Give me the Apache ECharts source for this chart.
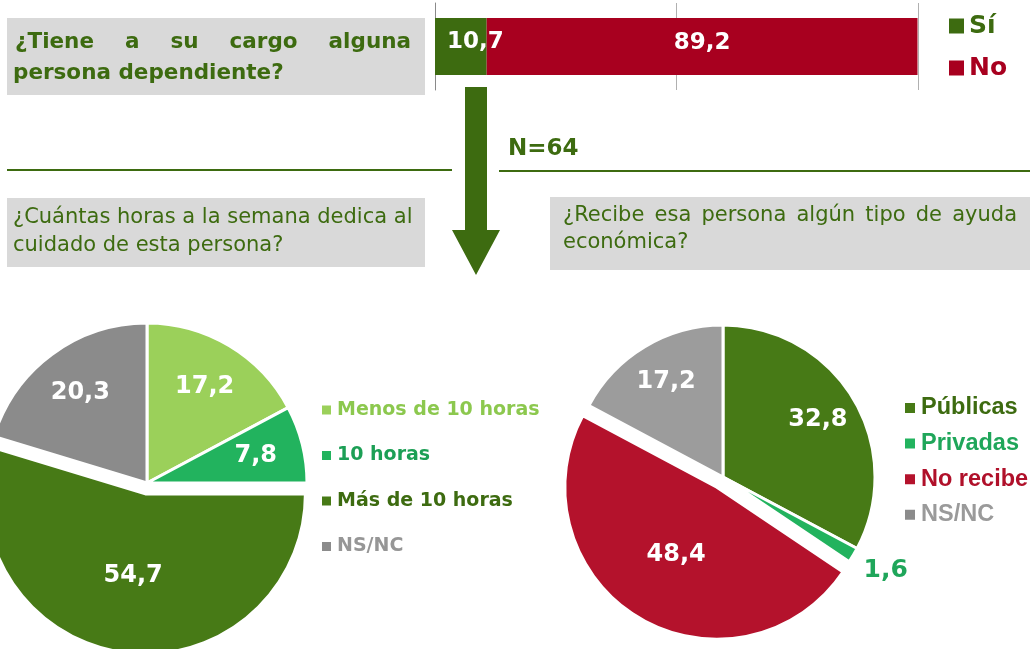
<!DOCTYPE html>
<html>
<head>
<meta charset="utf-8">
<script src="https://cdn.jsdelivr.net/npm/echarts@6/dist/echarts.min.js"></script>
<style>
html, body { margin: 0; padding: 0; background: #fff; }
#main { width: 1030px; height: 649px; }
</style>
</head>
<body>
<div id="main"></div>
<script>
// datos
var catSiNo = ['Sí', 'No'];
var valSiNo = [10.7, 89.2];

var catHoras = ['Menos de 10 horas', '10 horas', 'Más de 10 horas', 'NS/NC'];
var valHoras = [17.2, 7.8, 54.7, 20.3];

var catAyuda = ['Públicas', 'Privadas', 'No recibe', 'NS/NC'];
var valAyuda = [32.8, 1.6, 48.4, 17.2];

var nMuestra = 'N=64';

// colores
var verde = '#3d6b10';
var rojo = '#a8001f';
var colHoras = ['#9bd05a', '#22b35e', '#477a16', '#8b8b8b'];
var txtHoras = ['#8cc84e', '#1c9f55', '#3d6b10', '#969696'];
var colAyuda = ['#477a16', '#22b35e', '#b4122c', '#9c9c9c'];
var txtAyuda = ['#3d6b10', '#1fa65a', '#b0102a', '#9a9a9a'];

var fuente = '"DejaVu Sans", Verdana, sans-serif';

var myChart = echarts.init(document.getElementById('main'));

function coma(v) {
    return String(v).replace('.', ',');
}

// texto justificado palabra a palabra
var ctx = document.createElement('canvas').getContext('2d');
function justificar(texto, x0, x1, y, size, weight) {
    ctx.font = weight + ' ' + size + 'px ' + fuente;
    var palabras = texto.split(' ');
    var total = 0;
    palabras.forEach(function (w) { total += ctx.measureText(w).width; });
    var hueco = (x1 - x0 - total) / (palabras.length - 1);
    var x = x0, out = [];
    palabras.forEach(function (w) {
        out.push({
            type: 'text', x: x, y: y,
            style: { text: w, fill: verde, fontSize: size, fontWeight: weight, fontFamily: fuente, verticalAlign: 'middle' }
        });
        x += ctx.measureText(w).width + hueco;
    });
    return out;
}
function linea(texto, x, y, size, weight) {
    return {
        type: 'text', x: x, y: y,
        style: { text: texto, fill: verde, fontSize: size, fontWeight: weight, fontFamily: fuente, verticalAlign: 'middle' }
    };
}

// etiquetas de las porciones pequeñas algo más hacia fuera
function etiquetas(cx, cy, r, k, valores) {
    return function (params) {
        if (valores[params.dataIndex] > 40) return {};
        var rc = params.labelRect;
        var lx = rc.x + rc.width / 2, ly = rc.y + rc.height / 2;
        var d = Math.sqrt((lx - cx) * (lx - cx) + (ly - cy) * (ly - cy));
        if (d > r * 0.9) return { dy: 12 };   // etiqueta exterior (1,6)
        return { dx: (lx - cx) * (k - 1), dy: (ly - cy) * (k - 1) };
    };
}

var graficos = [
    { type: 'rect', shape: { x: 7, y: 18, width: 418, height: 77 }, style: { fill: '#d9d9d9' } },
    { type: 'rect', shape: { x: 7, y: 198, width: 418, height: 69 }, style: { fill: '#d9d9d9' } },
    { type: 'rect', shape: { x: 550, y: 197, width: 480, height: 73 }, style: { fill: '#d9d9d9' } },
    { type: 'line', shape: { x1: 7, y1: 170, x2: 452, y2: 170 }, style: { stroke: verde, lineWidth: 2 } },
    { type: 'line', shape: { x1: 499, y1: 171, x2: 1030, y2: 171 }, style: { stroke: verde, lineWidth: 2 } },
    { type: 'polygon', shape: { points: [[465, 87], [487, 87], [487, 230], [500, 230], [476, 275], [452, 230], [465, 230]] }, style: { fill: verde } },
    linea(nMuestra, 508, 149, 23, 'bold'),
    linea('persona dependiente?', 13, 73, 21.5, 'bold'),
    linea('¿Cuántas horas a la semana dedica al', 13, 218, 21, 'normal'),
    linea('cuidado de esta persona?', 13, 246, 21, 'normal'),
    linea('económica?', 563, 243, 21, 'normal')
];
graficos = graficos
    .concat(justificar('¿Tiene a su cargo alguna', 15, 411, 42, 21.5, 'bold'))
    .concat(justificar('¿Recibe esa persona algún tipo de ayuda', 563, 1017, 216, 21, 'normal'));

option = {
    backgroundColor: '#fff',
    animation: false,
    graphic: graficos,
    legend: [
        {
            left: 949, top: 12, orient: 'vertical', selectedMode: false, padding: 0,
            icon: 'rect', itemWidth: 15, itemHeight: 15, itemGap: 14,
            textStyle: { fontSize: 25, fontWeight: 'bold', fontFamily: fuente, lineHeight: 28 },
            data: [
                { name: catSiNo[0], textStyle: { color: verde } },
                { name: catSiNo[1], textStyle: { color: rojo } }
            ]
        },
        {
            left: 320, top: 398, orient: 'vertical', selectedMode: false, padding: 0,
            icon: 'rect', itemWidth: 11, itemHeight: 11, itemGap: 21.5,
            textStyle: { fontSize: 19, fontWeight: 'bold', fontFamily: fuente, lineHeight: 24 },
            data: catHoras.map(function (n, i) { return { name: n, textStyle: { color: txtHoras[i] } }; })
        },
        {
            left: 903, top: 395, orient: 'vertical', selectedMode: false, padding: 0,
            icon: 'rect', itemWidth: 12, itemHeight: 12, itemGap: 9.6,
            textStyle: { fontSize: 23.5, fontWeight: 'bold', fontFamily: '"Liberation Sans", Arial, sans-serif', lineHeight: 26 },
            data: catAyuda.map(function (n, i) { return { name: n, textStyle: { color: txtAyuda[i] } }; })
        }
    ],
    grid: { left: 435, top: 3, width: 483, height: 87 },
    xAxis: {
        type: 'value', min: 0, max: 100, interval: 50,
        axisLabel: { show: false },
        axisLine: { show: false },
        axisTick: { show: false },
        splitLine: { show: true, lineStyle: { color: '#b0b0b0', width: 1 } }
    },
    yAxis: {
        type: 'category', data: [''],
        axisLine: { show: true, lineStyle: { color: '#8a8a8a', width: 1 } },
        axisTick: { show: false },
        axisLabel: { show: false }
    },
    series: [
        {
            name: catSiNo[0], type: 'bar', stack: 'total', barWidth: 57,
            data: [valSiNo[0]],
            itemStyle: { color: verde },
            label: {
                show: true, position: 'insideLeft', distance: 12, offset: [0, -4],
                color: '#fff', fontSize: 23, fontWeight: 'bold', fontFamily: fuente,
                formatter: function (p) { return coma(p.value); }
            }
        },
        {
            name: catSiNo[1], type: 'bar', stack: 'total', barWidth: 57,
            data: [valSiNo[1]],
            itemStyle: { color: rojo },
            label: {
                show: true, position: 'inside', offset: [0, -3],
                color: '#fff', fontSize: 23, fontWeight: 'bold', fontFamily: fuente,
                formatter: function (p) { return coma(p.value); }
            }
        },
        {
            name: 'Horas', type: 'pie', center: [147, 483], radius: 160,
            startAngle: 90, clockwise: true,
            selectedMode: 'multiple', selectedOffset: 11,
            itemStyle: { borderColor: '#fff', borderWidth: 3 },
            label: {
                show: true, position: 'inside', color: '#fff', fontSize: 24, fontWeight: 'bold', fontFamily: fuente,
                formatter: function (p) { return coma(p.value); }
            },
            labelLayout: etiquetas(147, 483, 160, 1.35, valHoras),
            data: catHoras.map(function (n, i) {
                return { name: n, value: valHoras[i], selected: i === 2, itemStyle: { color: colHoras[i] } };
            })
        },
        {
            name: 'Ayuda', type: 'pie', center: [723, 477], radius: 152,
            startAngle: 90, clockwise: true,
            selectedMode: 'multiple', selectedOffset: 12,
            itemStyle: { borderColor: '#fff', borderWidth: 3 },
            label: {
                show: true, position: 'inside', color: '#fff', fontSize: 24, fontWeight: 'bold', fontFamily: fuente,
                formatter: function (p) { return coma(p.value); }
            },
            labelLayout: etiquetas(723, 477, 152, 1.4, valAyuda),
            data: catAyuda.map(function (n, i) {
                var d = { name: n, value: valAyuda[i], selected: i === 2, itemStyle: { color: colAyuda[i] } };
                if (n === 'Privadas') {
                    d.label = { position: 'outside', color: '#1fa65a', fontSize: 25 };
                    d.labelLine = { show: false, length: 6, length2: 0 };
                }
                return d;
            })
        }
    ]
};

myChart.setOption(option);
</script>
</body>
</html>
